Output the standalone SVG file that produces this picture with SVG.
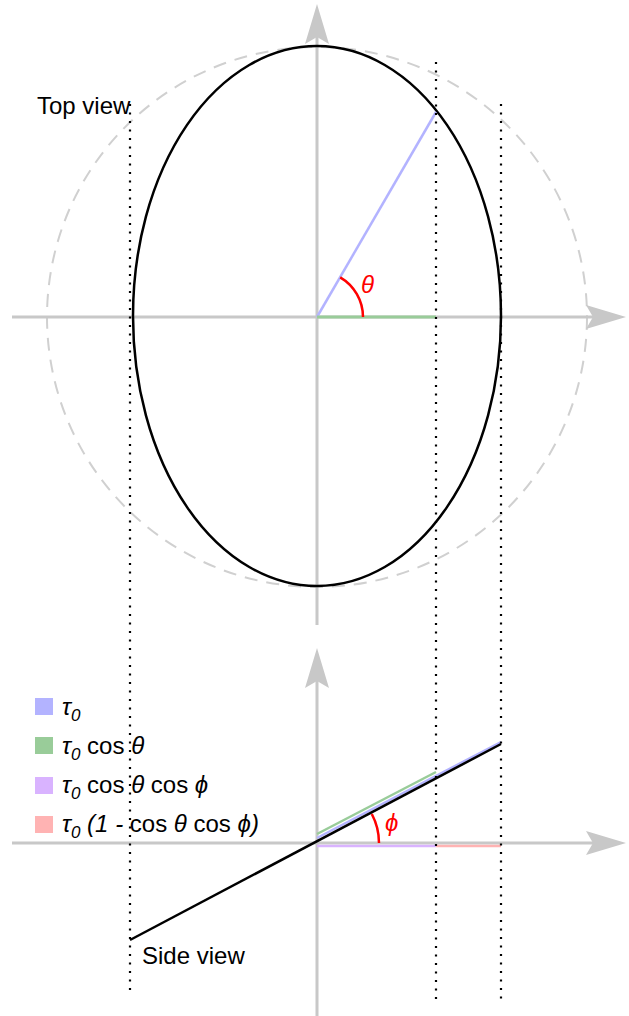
<svg xmlns="http://www.w3.org/2000/svg" width="629" height="1016" viewBox="0 0 629 1016">
<style>
.axis{stroke:#c8c8c8;stroke-width:3;fill:none}
.ah{fill:#c8c8c8}
.dot{stroke:#000;stroke-width:2.2;stroke-dasharray:2 6.5;fill:none}
.txt{font-family:"Liberation Sans",Arial,sans-serif;font-size:24px;fill:#000}
.it{font-style:italic}
.sub{font-size:17px;font-style:italic}
.red{fill:#ff0000}
</style>
<defs>
<path id="arrUp" d="M0,0 L12,40 L0,33 L-12,40 Z"/>
</defs>
<g id="top-view">
<circle cx="317" cy="317" r="270" fill="none" stroke="#d0d0d0" stroke-width="2" stroke-dasharray="13 9"/>
<line class="axis" x1="12" y1="317" x2="600" y2="317"/>
<use href="#arrUp" class="ah" transform="translate(626,317) rotate(90)"/>
<line class="axis" x1="317" y1="625" x2="317" y2="30"/>
<use href="#arrUp" class="ah" transform="translate(317,4)"/>
<ellipse cx="317" cy="316" rx="184" ry="270" fill="none" stroke="#000" stroke-width="2.5"/>
<line x1="317" y1="317" x2="436" y2="112" stroke="#b3b3ff" stroke-width="2.5"/>
<line x1="317" y1="317" x2="436" y2="317" stroke="#99cc99" stroke-width="3"/>
<path d="M363,317 A46,46 0 0 0 340.2,277.3" fill="none" stroke="#ff0000" stroke-width="2.5"/>
<text class="txt it red" x="361" y="293">θ</text>
<text class="txt" x="37" y="114">Top view</text>
</g>
<g id="side-view">
<line class="axis" x1="12" y1="843" x2="600" y2="843"/>
<use href="#arrUp" class="ah" transform="translate(626,843) rotate(90)"/>
<line class="axis" x1="317" y1="1016" x2="317" y2="675"/>
<use href="#arrUp" class="ah" transform="translate(317,648)"/>
<line x1="317" y1="846" x2="436" y2="846" stroke="#d9b3ff" stroke-width="2.5"/>
<line x1="436" y1="846" x2="501" y2="846" stroke="#ffb3b3" stroke-width="2.5"/>
<line x1="317" y1="834" x2="436" y2="772" stroke="#99cc99" stroke-width="2.5"/>
<line x1="317" y1="838" x2="501" y2="742" stroke="#b3b3ff" stroke-width="2.5"/>
<line x1="130" y1="940" x2="501" y2="744" stroke="#000" stroke-width="2.5"/>
<path d="M379,843 A62,62 0 0 0 371.8,814" fill="none" stroke="#ff0000" stroke-width="2.5"/>
<text class="txt it red" x="385" y="831">ϕ</text>
<text class="txt" x="142" y="964">Side view</text>
</g>
<g id="connectors">
<line class="dot" x1="130" y1="104" x2="130" y2="995"/>
<line class="dot" x1="436" y1="62" x2="436" y2="1005"/>
<line class="dot" x1="501" y1="104" x2="501" y2="1005"/>
</g>
<g id="legend">
<rect x="35" y="698" width="18" height="17" fill="#b3b3ff"/>
<rect x="35" y="737" width="18" height="17" fill="#99cc99"/>
<rect x="35" y="777" width="18" height="17" fill="#d9b3ff"/>
<rect x="35" y="816" width="18" height="17" fill="#ffb3b3"/>
<text class="txt" x="62" y="715"><tspan class="it">τ</tspan><tspan class="sub" dy="6">0</tspan></text>
<text class="txt" x="62" y="754"><tspan class="it">τ</tspan><tspan class="sub" dy="6">0</tspan><tspan dy="-6"> cos </tspan><tspan class="it">θ</tspan></text>
<text class="txt" x="62" y="793"><tspan class="it">τ</tspan><tspan class="sub" dy="6">0</tspan><tspan dy="-6"> cos </tspan><tspan class="it">θ</tspan><tspan> cos </tspan><tspan class="it">ϕ</tspan></text>
<text class="txt" x="62" y="832"><tspan class="it">τ</tspan><tspan class="sub" dy="6">0</tspan><tspan class="it" dy="-6"> (1 - </tspan><tspan>cos </tspan><tspan class="it">θ</tspan><tspan> cos </tspan><tspan class="it">ϕ</tspan><tspan class="it">)</tspan></text>
</g>
</svg>
